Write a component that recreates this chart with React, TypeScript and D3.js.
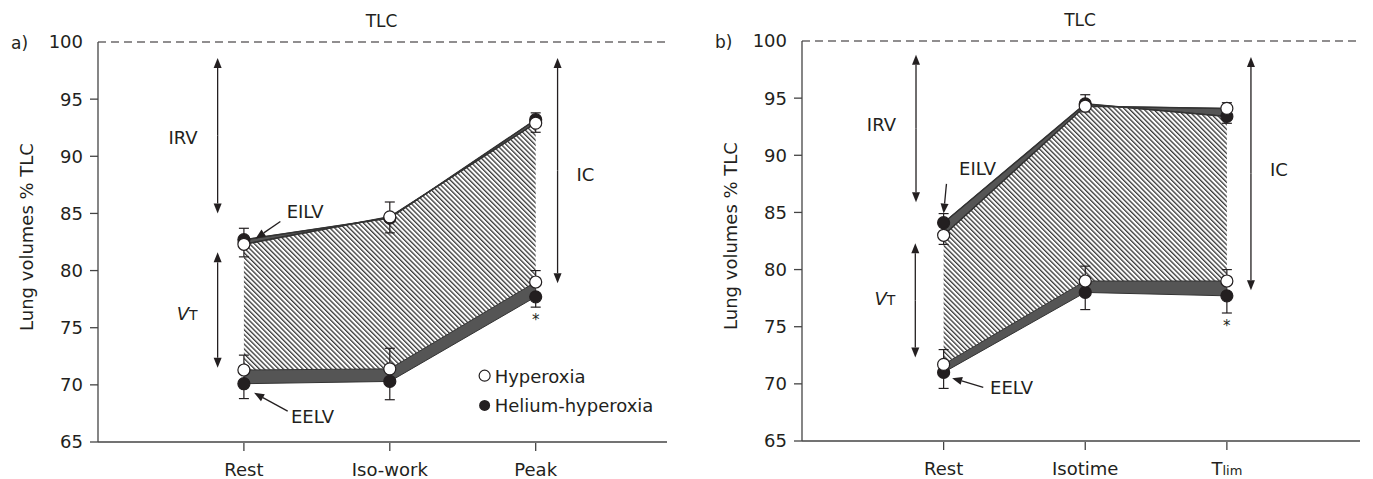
import React from "react";
import * as d3 from "d3";

// categories
const catsA = ["Rest", "Iso-work", "Peak"];
const catsB = ["Rest", "Isotime", "Tlim"];
const yTicks = [65, 70, 75, 80, 85, 90, 95];

// panel a values (% TLC)
const eilvHypA = [82.3, 84.7, 92.9];
const eilvHelA = [82.7, 84.6, 93.2];
const eelvHypA = [71.3, 71.4, 79.0];
const eelvHelA = [70.1, 70.3, 77.7];
const eilvErrUpA = [1.0, 1.3, 0.6];
const eilvErrDnA = [1.1, 1.3, 0.8];
const eelvErrUpA = [1.3, 1.8, 1.0];
const eelvErrDnA = [1.3, 1.6, 0.9];

// panel b values (% TLC)
const eilvHypB = [83.0, 94.3, 94.1];
const eilvHelB = [84.1, 94.5, 93.4];
const eelvHypB = [71.7, 79.0, 79.0];
const eelvHelB = [71.0, 78.0, 77.7];
const eilvErrUpB = [0.8, 0.8, 0.5];
const eilvErrDnB = [0.8, 0.5, 0.6];
const eelvErrUpB = [1.3, 1.3, 1.0];
const eelvErrDnB = [1.4, 1.5, 1.5];

const INK = "#231f20";
const FONT = "'DejaVu Sans', Roboto, sans-serif";
const FS = 18;

type PanelProps = {
  letter: string;
  cats: string[];
  x0: number;
  x1: number;
  xMax: number;
  yTop: number;
  eilvHyp: number[];
  eilvHel: number[];
  eelvHyp: number[];
  eelvHel: number[];
  eilvUp: number[];
  eilvDn: number[];
  eelvUp: number[];
  eelvDn: number[];
  irv: [number, number, number]; // x pos, from, to
  vt: [number, number, number];
  ic: [number, number, number];
  irvLbl: number;
  vtLbl: number;
  icLbl: number;
  eilvLbl: [number, number];
  eilvArrow: [number, number, number, number];
  eelvLbl: [number, number];
  eelvArrow: [number, number, number, number];
  legend?: boolean;
  pid: string;
};

function Arrow({ x1, y1, x2, y2 }: { x1: number; y1: number; x2: number; y2: number }) {
  const a = Math.atan2(y2 - y1, x2 - x1);
  const L = 10, W = 4;
  const bx = x2 - L * Math.cos(a), by = y2 - L * Math.sin(a);
  const p = `${x2},${y2} ${bx - W * Math.sin(a)},${by + W * Math.cos(a)} ${bx + W * Math.sin(a)},${by - W * Math.cos(a)}`;
  return (
    <g>
      <line x1={x1} y1={y1} x2={bx} y2={by} stroke={INK} strokeWidth={1.3} />
      <polygon points={p} fill={INK} />
    </g>
  );
}

function DArrow({ x, ya, yb }: { x: number; ya: number; yb: number }) {
  const m = (ya + yb) / 2;
  return (
    <g>
      <Arrow x1={x} y1={m} x2={x} y2={ya} />
      <Arrow x1={x} y1={m} x2={x} y2={yb} />
    </g>
  );
}

function Panel(p: PanelProps) {
  const yBottom = p.yTop + 400;
  const x = d3.scaleLinear().domain([0, p.xMax]).range([p.x0, p.x1]);
  const y = d3.scaleLinear().domain([65, 100]).range([yBottom, p.yTop]);
  const idx = [0, 1, 2];
  const px = (i: number) => x(i + 1);

  const band = (top: number[], bot: number[]) =>
    d3.area<number>().x((i) => px(i)).y0((i) => y(bot[i])).y1((i) => y(top[i]))(idx) || "";
  const line = (v: number[]) => d3.line<number>().x((i) => px(i)).y((i) => y(v[i]))(idx) || "";

  const cap = 5;
  const errBar = (cx: number, a: number, b: number, key: string) => (
    <g key={key} stroke={INK} strokeWidth={1.2}>
      <line x1={cx} x2={cx} y1={y(a)} y2={y(b)} />
      <line x1={cx - cap} x2={cx + cap} y1={y(b)} y2={y(b)} />
    </g>
  );

  const pat = `hatch-${p.pid}`;
  return (
    <g fontFamily={FONT} fill={INK}>
      <defs>
        <pattern id={pat} width={3.4} height={3.4} patternUnits="userSpaceOnUse" patternTransform="rotate(-45)">
          <line x1={0.7} y1={0} x2={0.7} y2={3.4} stroke="#111" strokeWidth={1.1} />
        </pattern>
      </defs>
      {/* TLC dashed line */}
      <line x1={p.x0} x2={p.x1} y1={y(100)} y2={y(100)} stroke={INK} strokeWidth={1.2} strokeDasharray="8,5" />
      <text x={(p.x0 + p.x1) / 2 - 1} y={p.yTop - 15} fontSize={FS - 1} textAnchor="middle">TLC</text>
      <text x={p.x0 - 87} y={p.yTop + 7} fontSize={FS - 1}>{p.letter}</text>

      {/* y axis */}
      <line x1={p.x0} x2={p.x0} y1={y(100)} y2={yBottom} stroke="#444" strokeWidth={1.3} />
      {yTicks.map((t) => (
        <g key={t}>
          <line x1={p.x0 - 8} x2={p.x0} y1={y(t)} y2={y(t)} stroke="#444" strokeWidth={1.3} />
          <text x={p.x0 - 15} y={y(t)} dy="0.36em" fontSize={FS} textAnchor="end">{t}</text>
        </g>
      ))}
      <text x={p.x0 - 15} y={y(100)} dy="0.36em" fontSize={FS} textAnchor="end">100</text>
      <text transform={`translate(${p.x0 - 65},${(p.yTop + yBottom) / 2 - 5}) rotate(-90)`} fontSize={FS} textAnchor="middle">
        Lung volumes % TLC
      </text>

      {/* x axis */}
      <line x1={p.x0} x2={p.x1} y1={yBottom} y2={yBottom} stroke="#444" strokeWidth={1.3} />
      {p.cats.map((c, i) => (
        <g key={c}>
          <line x1={px(i)} x2={px(i)} y1={yBottom + 1} y2={yBottom + 9} stroke="#444" strokeWidth={1.3} />
          {c === "Tlim" ? (
            <text x={px(i)} y={yBottom + 34} fontSize={FS} textAnchor="middle">
              T<tspan fontSize={13}>lim</tspan>
            </text>
          ) : (
            <text x={px(i)} y={yBottom + 34} fontSize={FS} textAnchor="middle">{c}</text>
          )}
        </g>
      ))}

      {/* hatched tidal area */}
      <path d={band(p.eilvHyp, p.eelvHyp)} fill={`url(#${pat})`} />
      {/* dark bands */}
      <path d={band(p.eelvHyp, p.eelvHel)} fill="#555" stroke="#333" strokeWidth={1} />
      <path d={band(p.eilvHel, p.eilvHyp)} fill="#555" stroke="#333" strokeWidth={1} />
      <path d={line(p.eilvHyp)} fill="none" stroke="#333" strokeWidth={1.5} />
      <path d={line(p.eilvHel)} fill="none" stroke="#333" strokeWidth={1.5} />

      {/* error bars */}
      {idx.map((i) => {
        const hi = Math.max(p.eilvHyp[i], p.eilvHel[i]);
        const lo = Math.min(p.eilvHyp[i], p.eilvHel[i]);
        return (
          <g key={i}>
            {errBar(px(i), hi, hi + p.eilvUp[i], "a")}
            {errBar(px(i), lo, lo - p.eilvDn[i], "b")}
            {errBar(px(i), p.eelvHyp[i], p.eelvHyp[i] + p.eelvUp[i], "c")}
            {errBar(px(i), p.eelvHel[i], p.eelvHel[i] - p.eelvDn[i], "d")}
          </g>
        );
      })}

      {/* points */}
      {idx.map((i) => (
        <g key={"pt" + i} strokeWidth={1.2} stroke={INK}>
          <circle cx={px(i)} cy={y(p.eilvHel[i])} r={6} fill={INK} />
          <circle cx={px(i)} cy={y(p.eelvHel[i])} r={6} fill={INK} />
          <circle cx={px(i)} cy={y(p.eilvHyp[i])} r={6} fill="#fff" />
          <circle cx={px(i)} cy={y(p.eelvHyp[i])} r={6} fill="#fff" />
        </g>
      ))}
      <text x={px(2)} y={y(p.eelvHel[2] - p.eelvDn[2]) + 18} fontSize={15} textAnchor="middle">*</text>

      {/* annotations */}
      <DArrow x={x(p.irv[0])} ya={y(p.irv[1])} yb={y(p.irv[2])} />
      <text x={x(p.irv[0]) - 20} y={y(p.irvLbl)} fontSize={FS} textAnchor="end">IRV</text>
      <DArrow x={x(p.vt[0])} ya={y(p.vt[1])} yb={y(p.vt[2])} />
      <text x={x(p.vt[0]) - 20} y={y(p.vtLbl)} fontSize={FS} textAnchor="end">
        <tspan fontStyle="italic">V</tspan>
        <tspan fontSize={14}>T</tspan>
      </text>
      <DArrow x={x(p.ic[0])} ya={y(p.ic[1])} yb={y(p.ic[2])} />
      <text x={x(p.ic[0]) + 19} y={y(p.icLbl)} fontSize={FS}>IC</text>

      <text x={x(p.eilvLbl[0])} y={y(p.eilvLbl[1])} fontSize={FS} textAnchor="middle">EILV</text>
      <Arrow x1={x(p.eilvArrow[0])} y1={y(p.eilvArrow[1])} x2={x(p.eilvArrow[2])} y2={y(p.eilvArrow[3])} />
      <text x={x(p.eelvLbl[0])} y={y(p.eelvLbl[1])} fontSize={FS} textAnchor="middle">EELV</text>
      <Arrow x1={x(p.eelvArrow[0])} y1={y(p.eelvArrow[1])} x2={x(p.eelvArrow[2])} y2={y(p.eelvArrow[3])} />

      {p.legend && (
        <g>
          <circle cx={x(2.65)} cy={y(70.8)} r={5.5} fill="#fff" stroke={INK} strokeWidth={1.2} />
          <text x={x(2.65) + 10} y={y(70.8) + 7} fontSize={FS}>Hyperoxia</text>
          <circle cx={x(2.65)} cy={y(68.2)} r={5.5} fill={INK} />
          <text x={x(2.65) + 10} y={y(68.2) + 7} fontSize={FS}>Helium-hyperoxia</text>
        </g>
      )}
    </g>
  );
}

export default function App() {
  return (
    <svg width={1373} height={479} style={{ display: "block", position: "absolute", left: 0, top: 0 }}>
      <rect width={1373} height={479} fill="#fff" />
      <Panel
        pid="a"
        letter="a)"
        cats={catsA}
        x0={98}
        x1={667}
        xMax={3.9}
        yTop={42}
        eilvHyp={eilvHypA}
        eilvHel={eilvHelA}
        eelvHyp={eelvHypA}
        eelvHel={eelvHelA}
        eilvUp={eilvErrUpA}
        eilvDn={eilvErrDnA}
        eelvUp={eelvErrUpA}
        eelvDn={eelvErrDnA}
        irv={[0.82, 98.6, 85.0]}
        vt={[0.82, 81.6, 71.5]}
        ic={[3.15, 98.6, 78.9]}
        irvLbl={91.1}
        vtLbl={75.7}
        icLbl={87.8}
        eilvLbl={[1.42, 84.6]}
        eilvArrow={[1.25, 84.3, 1.08, 82.8]}
        eelvLbl={[1.47, 66.7]}
        eelvArrow={[1.3, 67.7, 1.07, 69.3]}
        legend
      />
      <Panel
        pid="b"
        letter="b)"
        cats={catsB}
        x0={802}
        x1={1360}
        xMax={3.94}
        yTop={41}
        eilvHyp={eilvHypB}
        eilvHel={eilvHelB}
        eelvHyp={eelvHypB}
        eelvHel={eelvHelB}
        eilvUp={eilvErrUpB}
        eilvDn={eilvErrDnB}
        eelvUp={eelvErrUpB}
        eelvDn={eelvErrDnB}
        irv={[0.805, 98.8, 85.9]}
        vt={[0.8, 82.3, 72.3]}
        ic={[3.17, 98.6, 78.2]}
        irvLbl={92.1}
        vtLbl={76.9}
        icLbl={88.2}
        eilvLbl={[1.24, 88.3]}
        eilvArrow={[1.02, 87.5, 1.0, 84.9]}
        eelvLbl={[1.48, 69.1]}
        eelvArrow={[1.28, 69.7, 1.06, 70.5]}
      />
    </svg>
  );
}
